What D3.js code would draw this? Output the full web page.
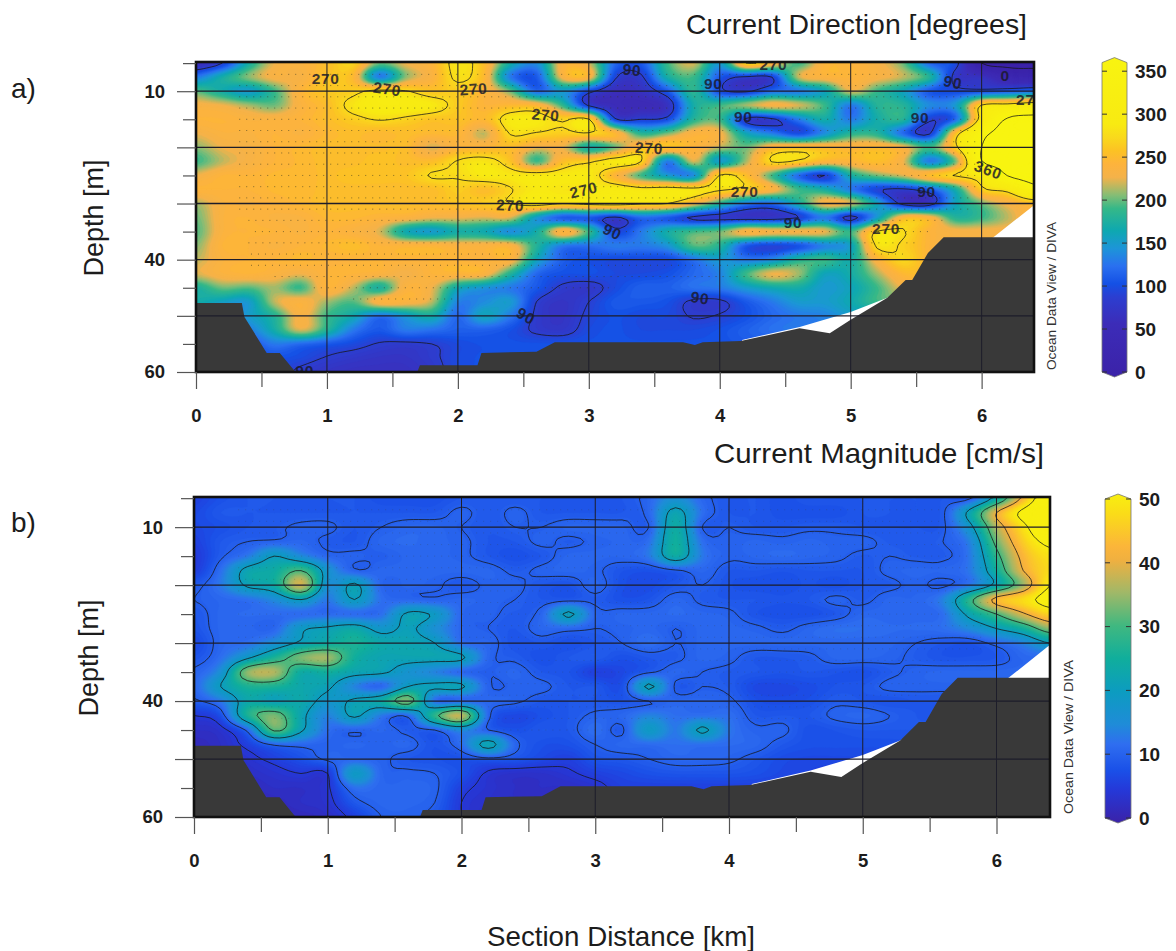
<!DOCTYPE html>
<html><head><meta charset="utf-8">
<script src="https://cdn.jsdelivr.net/npm/d3@7"></script>
<style>
html,body{margin:0;padding:0;background:#fff}
svg{display:block}
text{font-family:"Liberation Sans",Arial,sans-serif;fill:#1c1c1c}
</style></head><body><div id="chart"></div>
<script>
// ---------- section grid ----------
const colStepKm = 0.2;                 // 33 columns, 0 - 6.4 km
const rowDepths = [5,7.5,10,12.5,15,17.5,20,22.5,25,27.5,30,32.5,35,37.5,40,42.5,45,47.5,50,52.5,55,57.5,60];

// ---------- a) current direction [degrees], one array per depth ----------
const dirD05=[60,90,170,225,235,250,265,200,225,240,280, 250,170,140,235,220,120,110,190,220,150,270, 240,190,240,240,230,200,120,100,0,-10,-10];
const dirD07=[130,170,205,230,230,255,245,130,205,235,275, 245,130,110,230,235,95,85,170,190,110,85, 90,215,235,240,230,215,180,80,70,35,30];
const dirD10=[195,170,150,190,240,258,262,280,272,255,262, 240,200,120,150,100,65,70,110,185,100,85, 120,130,160,220,190,160,110,100,100,110,120];
const dirD12=[230,225,210,200,235,250,280,295,295,285,260, 240,245,240,185,85,60,55,70,170,190,210, 230,220,190,130,180,180,140,150,272,285,300];
const dirD15=[240,240,235,235,240,250,262,272,265,255,255, 245,285,285,265,272,95,90,100,180,190,85, 85,130,170,130,170,180,95,120,290,365,375];
const dirD17=[225,235,235,240,235,245,250,245,250,245,245, 215,272,268,262,268,245,180,200,235,230,160, 130,100,140,180,180,120,85,250,345,375,380];
const dirD20=[205,225,230,240,245,250,250,250,250,220,240, 240,250,225,225,170,200,250,255,240,215,200, 240,250,245,240,245,230,190,262,360,375,380];
const dirD22=[190,215,230,240,245,250,250,255,250,250,272, 280,255,190,250,265,285,270,130,220,150,210, 272,265,240,240,250,225,130,200,358,375,380];
const dirD25=[225,240,240,245,245,250,255,255,255,272,272, 285,282,285,285,285,240,190,150,140,272,250, 190,120,90,170,200,220,250,272,290,362,380];
const dirD27=[240,240,240,245,245,250,250,250,250,250,262, 250,268,285,280,280,290,280,285,280,275,260, 235,190,170,130,95,85,110,170,262,282,340];
const dirD30=[210,235,235,240,245,250,250,250,250,250,255, 260,270,285,272,280,285,275,270,230,180,130, 120,170,230,220,160,80,75,160,200,230,250];
const dirD32=[200,235,240,235,235,245,245,240,235,225,225, 220,220,150,110,110,85,120,110,85,80,75, 75,90,130,80,150,240,235,180,190,215,240];
const dirD35=[195,235,240,240,235,240,235,220,165,150,170, 165,140,170,240,190,100,130,170,190,200,235, 230,230,225,190,272,272,240,230,230,230,230];
const dirD37=[205,240,240,235,240,245,250,240,240,240,235, 235,235,180,130,125,130,130,145,195,180,110, 95,105,135,155,275,265,240,220,220,220,220];
const dirD40=[215,235,240,240,245,240,240,240,240,240,240, 235,235,160,115,105,100,100,100,125,150,130, 140,180,190,170,235,268,240,230,230,230,230];
const dirD42=[220,235,240,235,225,240,240,235,225,240,240, 235,180,120,105,105,100,100,105,120,135,190, 225,210,160,170,210,245,245,230,230,230,230];
const dirD45=[175,200,195,210,190,240,215,175,235,225,165, 145,130,110,85,80,100,115,115,125,130,150, 165,170,150,160,190,225,230,230,230,230,230];
const dirD47=[170,155,150,215,235,210,195,235,235,215,135, 140,150,90,75,90,110,110,105,85,85,110, 130,150,150,165,190,200,200,200,200,200,200];
const dirD50=[130,120,150,180,230,190,165,125,150,170,120, 160,130,85,75,95,105,100,100,88,92,105, 120,130,135,150,150,150,150,150,150,150,150];
const dirD52=[120,115,130,170,220,180,130,110,130,125,115, 115,105,85,80,100,105,100,100,100,105,115, 125,130,130,130,130,130,130,130,130,130,130];
const dirD55=[100,100,105,130,120,110,100,88,85,90,100, 105,105,105,105,105,105,105,105,105,105,110, 110,110,110,110,110,110,110,110,110,110,110];
const dirD57=[100,100,100,105,100,88,80,75,75,85,100, 105,105,105,105,105,105,105,105,105,105,105, 105,105,105,105,105,105,105,105,105,105,105];
const dirD60=[100,100,100,100,85,75,70,70,70,80,100, 105,105,105,105,105,105,105,105,105,105,105, 105,105,105,105,105,105,105,105,105,105,105];
const dirRows=[dirD05,dirD07,dirD10,dirD12,dirD15,dirD17,dirD20,dirD22,dirD25,dirD27,dirD30,dirD32,dirD35,dirD37,dirD40,dirD42,dirD45,dirD47,dirD50,dirD52,dirD55,dirD57,dirD60];

// ---------- b) current magnitude [cm/s], one array per depth ----------
const magD05=[6,8,9,9,9,9,9,8,8,8,9, 9,9,9,9,9,9,11,16,11,9,9, 8,9,9,9,9,9,9,9.5,23,42,58];
const magD07=[7,9,9,9,9,9,9,9,9,9,10.5, 9,10.5,9,9,9,9,11,22,12,9,9, 8,8,8,9,9,9,9.5,22,40,52,60];
const magD10=[7,8,9,9.5,10.5,10.5,9,10,11,11,10, 9,10,10,11,11,11,10,24,10,10,9, 9,9.5,9.5,9,9,9,9.5,18,36,48,58];
const magD12=[6,9,10,10.5,11,9.5,9,11,11.5,11,10.5, 9,9,10.5,9.5,10.5,11,12,25,12,10.5,11, 10.5,11,10.5,10.5,9.5,9.5,10,14,32,45,52];
const magD15=[5,9.5,13,20,15,11,10.5,10,11,11,10.5, 9,8,9,11,11,11,13,24,13,10.5,11, 11.5,11,10.5,9.5,10,9.5,9.5,13,28,42,48];
const magD17=[5.5,12,22,24,30,17,10.5,11,11,11,11, 11,9.5,10.5,11,10.5,8.5,8,9.5,11,9,9, 8.5,9,9,9,10.5,11,11,13,25,40,47];
const magD20=[9,13,21,24,38,16,21,11,11,10.5,9, 10.5,10.5,9,8.5,11,8,7.5,9,10,8.5,8, 8,8.5,8,9,9.5,10.5,9.5,13,22,35,50];
const magD22=[10,11,12,15,20,13,20,12,11,10.5,11, 10.5,10,9,9,9.5,8,8.5,11,9.5,9,9, 8.5,9,10.5,9.5,11,11,14,28,42,47,53];
const magD25=[9,11,11.5,11.5,11.5,11.5,11.5,12,21,19,11, 10.5,9.5,11,21,11,11,11,11.5,11,10.5,8.5, 8,8,9,11,11,11,12,22,30,39,46];
const magD27=[8.5,11,11,11,19,21,23,18,21,16,11, 10,9,11,11,10,10.5,11,10,11,11,10.5, 9.5,11,12,12,11.5,11.5,12,15,20,25,34];
const magD30=[7,11,12,16,21,24,26,23,22,20,12, 11,8.5,9,8,9,10,12,10,11,11,11, 11,11,11,11,11,10,9,8.5,11,14,20];
const magD32=[8.5,12,19,26,33,35,25,22,22,22,21, 11,9.5,8,9,9.5,8,9,9.5,11,10.5,9, 9,9.5,11,11,10.5,9.5,8.5,8.5,9,11,11];
const magD35=[10.5,16,34,36,24,25,22,21,17,14,11, 10,11,9,8.5,6,7,9.5,11,10,9.5,9, 8.5,9,8.5,8,9.5,10.5,11,11,11,11,11];
const magD37=[11,20,26,26,23,21,14,11,20,21,21, 10.5,10.5,10.5,9,9,8,21,9.5,10,9.5,7, 7,7.5,8.5,9,10.5,10.5,10.5,10.5,10.5,10.5,10.5];
const magD40=[9.5,13,23,21,23,18,21,24,33,12,11, 11,10.5,9,9,9,8.5,10,11,11,10.5,8, 7.5,8,9.5,9,8.5,9,9,9,9,9,9];
const magD42=[5,8,26,33,22,14,21,13,11,28,37, 11,7,8,9,10.5,11,14,12,12,12,9, 9,9,10.5,11,10,9,9,9,9,9,9];
const magD45=[3,4,11,31,21,12,10.5,11,9.5,10,15, 10,8,9,9,12,9.5,19,13,21,13,10.5, 10.5,8,8.5,9,9,9,9,9,9,9,9];
const magD47=[2,3,6,10.5,11,10.5,11,10.5,11,8.5,12, 22,11,8,8,10,11,11.5,12,12,11.5,11, 9,8,8,8,8,8,8,8,8,8,8];
const magD50=[2,3,4,6,8,10.5,11,10.5,9,8.5,8, 9,8.5,7,6,8.5,9,10,11,11,10.5,9, 7.5,7,7,7,7,7,7,7,7,7,7];
const magD52=[2,2,3,4,5,5,19,11,10.5,10,8, 4.5,3.5,3.5,4.5,6,7,8,8.5,8.5,8.5,8, 7,6.5,6,6,6,6,6,6,6,6,6];
const magD55=[2,2,2,3,3,4.5,12,11,11,10.5,6, 4,3,3,3,4,6,6,6,6,6,6, 6,6,6,6,6,6,6,6,6,6,6];
const magD57=[2,2,2,2,3,4,9,11,11,10,5, 3.5,3,3,3,4,6,6,6,6,6,6, 6,6,6,6,6,6,6,6,6,6,6];
const magD60=[2,2,2,2,2,3,6,10,10.5,9,5, 3,3,3,3,4,6,6,6,6,6,6, 6,6,6,6,6,6,6,6,6,6,6];
const magRows=[magD05,magD07,magD10,magD12,magD15,magD17,magD20,magD22,magD25,magD27,magD30,magD32,magD35,magD37,magD40,magD42,magD45,magD47,magD50,magD52,magD55,magD57,magD60];

// ---------- bottom topography and data limit ----------
const bedKm   =[0,.35,.37,.54,.64,.76,1.69,1.71,2.15,2.18,2.60,2.74,2.80,3.72,3.81,3.87,4.16,4.61,4.84,5.0,5.28,5.42,5.47,5.59,5.71,6.4,6.4,0];
const bedDepth=[47.7,47.7,50.2,56.6,56.6,60,60,58.8,58.8,56.6,56.4,54.7,54.7,54.7,55.2,54.7,54.5,52.2,53.1,50.7,46.8,43.6,43.6,38.8,36,36,60,60];
const limitKm   =[4.17,4.61,5.0,5.28,6.09,6.4,6.4,4.17];
const limitDepth=[54.3,52,49.3,46.8,36,30.3,60,60];

// ---------- sample rows (dotted) ----------
const sampleDepth=[7,9,11,13,15,17,19,21,23,25,27,29,31,33,35,37,39,41,43,45,47,49];
const sampleFrom =[.33,.33,.33,.33,.33,.33,.33,.33,.33,.33,.33,.33,.33,.4,.45,.4,.42,.42,.6,.9,1.2,1.9];
const sampleTo   =[6.0,6.0,6.0,6.0,6.0,6.0,6.0,6.0,6.0,6.0,6.0,5.9,5.9,5.7,5.6,5.5,5.4,5.1,4.7,3.2,2.0,2.0];

// ---------- colours ----------
const dirStops=[0,60,90,105,125,145,165,190,205,225,240,255,270,285,360];
const dirColors=["#3b22a8","#3c2cb8","#2c3ed0","#1450e5","#2a70f0","#1d95d8","#0ea8b0","#35b888","#85bd75","#f4b24a","#fdb33c","#fcc224","#f9d91c","#f8ea12","#f8f410"];
const magStops=[0,5,8,12,15,20,25,30,35,40,42,47,50];
const magColors=["#3b22a8","#2538d8","#1a50e8","#2f6ef0","#1f8cd8","#0c9cc0","#10ae9c","#40b880","#a0b868","#f0b040","#fbb53a","#fadc18","#f8ef10"];

// ---------- ticks and texts ----------
const depthLabelled=[10,40,60], depthMajor=[10,20,30,40,50,60], depthMinor=[5,15,25,35,45,55];
const gridDepth=[10,20,30,40,50], gridKm=[1,2,3,4,5,6];
const kmMajor=[0,1,2,3,4,5,6], kmMinor=[.5,1.5,2.5,3.5,4.5,5.5];
const dirBarTicks=[0,50,100,150,200,250,300,350], magBarTicks=[0,10,20,30,40,50];
const dirLevels=[0,90,270,360], magLevels=[5,10,20,30,40,50];
const dirLabelText=["270","270","270","270","270","270","270","270","270","270","270","360","90","90","90","90","90","0","90","90","90","90","90","90"];
const dirLabelKm=[.99,1.46,2.12,2.67,3.46,2.96,4.19,2.40,5.27,4.41,6.37,6.05,3.33,3.95,4.18,5.53,5.78,6.18,5.58,4.56,3.18,2.52,3.85,.83];
const dirLabelDepth=[7.8,9.6,9.6,14.2,20.1,27.6,27.8,30.3,34.5,5.3,11.5,24,6.2,8.7,14.4,14.7,8.4,7.1,27.9,33.3,35,50,46.8,59.8];
const dirLabelTurn=[0,8,-4,5,3,-14,0,2,0,0,0,20,5,0,0,0,12,0,0,0,25,30,8,0];

// ---------- layout ----------
const W=1176,H=951;
const svg=d3.select("#chart").append("svg").attr("width",W).attr("height",H).attr("viewBox",[0,0,W,H]);
const defs=svg.append("defs");

function upsample(rows,k){
  // Catmull-Rom resampling of the read-off grid, for smooth shading only
  const ny=rows.length,nx=rows[0].length;
  const cr=(p0,p1,p2,p3,t)=>.5*((2*p1)+(-p0+p2)*t+(2*p0-5*p1+4*p2-p3)*t*t+(-p0+3*p1-3*p2+p3)*t*t*t);
  const at=(j,i)=>rows[Math.max(0,Math.min(ny-1,j))][Math.max(0,Math.min(nx-1,i))];
  const w=(nx-1)*k+1,h=(ny-1)*k+1,out=new Float64Array(w*h);
  for(let yy=0;yy<h;yy++){const j=Math.min(ny-2,Math.floor(yy/k)),v=yy/k-j;
    for(let xx=0;xx<w;xx++){const i=Math.min(nx-2,Math.floor(xx/k)),u=xx/k-i;
      const c=[-1,0,1,2].map(d=>cr(at(j+d,i-1),at(j+d,i),at(j+d,i+1),at(j+d,i+2),u));
      out[yy*w+xx]=cr(c[0],c[1],c[2],c[3],v);
    }}
  return {values:out,w,h};
}

function panel(cfg){
  const x=d3.scaleLinear().domain([0,6.4]).range([cfg.left,cfg.right]);
  const y=d3.scaleLinear().domain([4.8,60]).range([cfg.top,cfg.bottom]);
  const color=d3.scaleLinear().domain(cfg.stops).range(cfg.colors).clamp(true);
  const k=5,f=upsample(cfg.rows,k);
  const yOfRow=d3.scaleLinear().domain(d3.range(rowDepths.length)).range(rowDepths);
  const proj=d3.geoTransform({point(px,py){
    this.stream.point(x((px-.5)/k*colStepKm),y(yOfRow((py-.5)/k)));
  }});
  const path=d3.geoPath(proj);
  defs.append("clipPath").attr("id",cfg.id+"clip").append("rect")
    .attr("x",cfg.left).attr("y",cfg.top).attr("width",cfg.right-cfg.left).attr("height",cfg.bottom-cfg.top);
  const g=svg.append("g").attr("clip-path",`url(#${cfg.id}clip)`);
  const gen=d3.contours().size([f.w,f.h]).smooth(true);
  // shading
  g.append("g").selectAll("path").data(gen.thresholds(cfg.shade)(f.values)).join("path")
    .attr("d",path).attr("fill",d=>color(d.value+cfg.shadeStep/2)).attr("stroke",d=>color(d.value+cfg.shadeStep/2)).attr("stroke-width",.4);
  // sample rows
  g.append("g").selectAll("line").data(sampleDepth).join("line")
    .attr("x1",(d,i)=>x(sampleFrom[i])).attr("x2",(d,i)=>x(sampleTo[i]))
    .attr("y1",d=>y(d)).attr("y2",d=>y(d))
    .attr("stroke","#3a3a20").attr("stroke-width",1).attr("stroke-dasharray","1 6").attr("opacity",cfg.dotOpacity);
  // contour lines
  g.append("g").selectAll("path").data(gen.thresholds(cfg.levels)(f.values)).join("path")
    .attr("d",path).attr("fill","none").attr("stroke","#161616").attr("stroke-width",.9).attr("stroke-opacity",.85);
  // data limit and bottom
  const poly=d3.line().x(d=>x(d[0])).y(d=>y(d[1]));
  g.append("path").attr("d",poly(d3.zip(limitKm,limitDepth))+"Z").attr("fill","#fff");
  g.append("path").attr("d",poly(d3.zip(bedKm,bedDepth))+"Z").attr("fill","#393939");
  // grid
  g.append("g").selectAll("line").data(gridDepth).join("line")
    .attr("x1",cfg.left).attr("x2",cfg.right).attr("y1",d=>y(d)).attr("y2",d=>y(d))
    .attr("stroke","#1d1d2a").attr("stroke-width",1.3);
  g.append("g").selectAll("line").data(gridKm).join("line")
    .attr("x1",d=>x(d)).attr("x2",d=>x(d)).attr("y1",cfg.top).attr("y2",cfg.bottom)
    .attr("stroke","#1d1d2a").attr("stroke-width",1);
  // contour labels
  if(cfg.labels){
    g.append("g").selectAll("text").data(cfg.labels).join("text")
      .attr("transform",d=>`translate(${x(d.km)},${y(d.depth)}) rotate(${d.turn})`)
      .attr("text-anchor","middle").attr("dy","0.36em")
      .style("font-size","15.5px").style("letter-spacing","0.7px").style("font-weight","bold").style("fill","#1a1a2a").style("opacity",.82)
      .text(d=>d.text);
  }
  // frame
  svg.append("rect").attr("x",cfg.left).attr("y",cfg.top).attr("width",cfg.right-cfg.left).attr("height",cfg.bottom-cfg.top)
    .attr("fill","none").attr("stroke","#111").attr("stroke-width",2.6);
  // axes
  const axisStyle=s=>{s.select(".domain").remove();s.selectAll(".tick line").attr("stroke","#555").attr("stroke-width",1.2);};
  const labelStyle=s=>s.selectAll("text").style("font-size","18.5px").style("font-weight","bold").style("font-family","'Liberation Sans'").attr("fill","#1c1c1c");
  svg.append("g").attr("transform",`translate(${cfg.left},0)`)
    .call(d3.axisLeft(y).tickValues(depthMinor).tickSize(13).tickFormat("")).call(axisStyle);
  svg.append("g").attr("transform",`translate(${cfg.left},0)`)
    .call(d3.axisLeft(y).tickValues(depthMajor).tickSize(19).tickPadding(12).tickFormat(d=>depthLabelled.includes(d)?d:"")).call(axisStyle).call(labelStyle);
  svg.append("g").attr("transform",`translate(0,${cfg.bottom})`)
    .call(d3.axisBottom(x).tickValues(kmMinor).tickSize(15).tickFormat("")).call(axisStyle);
  svg.append("g").attr("transform",`translate(0,${cfg.bottom})`)
    .call(d3.axisBottom(x).tickValues(kmMajor).tickSize(17).tickPadding(cfg.kmPad).tickFormat(d3.format("d"))).call(axisStyle).call(labelStyle);
  // colour bar
  const b=cfg.bar;
  const by=d3.scaleLinear().domain(b.domain).range(b.range);
  const gid=cfg.id+"grad";
  const grad=defs.append("linearGradient").attr("id",gid).attr("x1",0).attr("x2",0).attr("y1",1).attr("y2",0);
  const span=b.domain[1]-b.domain[0];
  cfg.stops.forEach((s,i)=>{const o=(s-b.domain[0])/span; if(o<=1) grad.append("stop").attr("offset",o).attr("stop-color",cfg.colors[i]);});
  const mid=(b.x0+b.x1)/2, tip=5;
  const yt=by(b.domain[1]), yb=by(b.domain[0]);
  svg.append("path")
    .attr("d",`M${b.x0},${yb}L${b.x0},${yt}L${mid},${yt-tip}L${b.x1},${yt}L${b.x1},${yb}L${mid},${yb+tip}Z`)
    .attr("fill",`url(#${gid})`).attr("stroke","#777").attr("stroke-width",.8);
  svg.append("g").selectAll("path").data(b.ticks).join("path")
    .attr("d",d=>`M${b.x0},${by(d)}h5M${b.x1},${by(d)}h-5`).attr("stroke","#333").attr("stroke-width",1);
  svg.append("g").selectAll("text").data(b.ticks).join("text")
    .attr("x",b.x1+8).attr("y",d=>by(d)).attr("dy","0.36em")
    .style("font-size","19px").style("font-weight","bold").text(d=>d);
}

panel({id:"a",left:196,right:1034,top:62,bottom:372,rows:dirRows,stops:dirStops,colors:dirColors,kmPad:20,
  shade:d3.range(-20,385,4),shadeStep:4,levels:dirLevels,dotOpacity:.6,
  labels:dirLabelText.map((t,i)=>({text:t,km:dirLabelKm[i],depth:dirLabelDepth[i],turn:dirLabelTurn[i]})),
  bar:{x0:1102,x1:1127,domain:[0,360],range:[372,62.6],ticks:dirBarTicks}});
panel({id:"b",left:194,right:1050,top:497,bottom:817,rows:magRows,stops:magStops,colors:magColors,kmPad:20,
  shade:d3.range(0,66,.6),shadeStep:.6,levels:magLevels,dotOpacity:.22,labels:null,
  bar:{x0:1105,x1:1131,domain:[0,50],range:[818,499],ticks:magBarTicks}});

// ---------- titles ----------
const titles=[
 {t:"Current Direction [degrees]",x:686,y:34,len:341},
 {t:"Current Magnitude [cm/s]",x:714,y:463,len:330},
 {t:"Section Distance [km]",x:487,y:946,len:268}];
svg.append("g").selectAll("text").data(titles).join("text")
  .attr("x",d=>d.x).attr("y",d=>d.y).attr("textLength",d=>d.len).attr("lengthAdjust","spacingAndGlyphs")
  .style("font-size","28px").text(d=>d.t);
const panelMarks=[{t:"a)",y:98},{t:"b)",y:532}];
svg.append("g").selectAll("text").data(panelMarks).join("text")
  .attr("x",11).attr("y",d=>d.y).style("font-size","28px").text(d=>d.t);
const depthTitles=[{x:103,y:218},{x:98,y:658}];
svg.append("g").selectAll("text").data(depthTitles).join("text")
  .attr("transform",d=>`translate(${d.x},${d.y}) rotate(-90)`).attr("text-anchor","middle")
  .style("font-size","27px").text("Depth [m]");
const credits=[{x:1056,y:370,len:148},{x:1073,y:814,len:154}];
svg.append("g").selectAll("text").data(credits).join("text")
  .attr("transform",d=>`translate(${d.x},${d.y}) rotate(-90)`).attr("textLength",d=>d.len).attr("lengthAdjust","spacingAndGlyphs")
  .style("font-size","13px").style("fill","#333").text("Ocean Data View / DIVA");
</script></body></html>
